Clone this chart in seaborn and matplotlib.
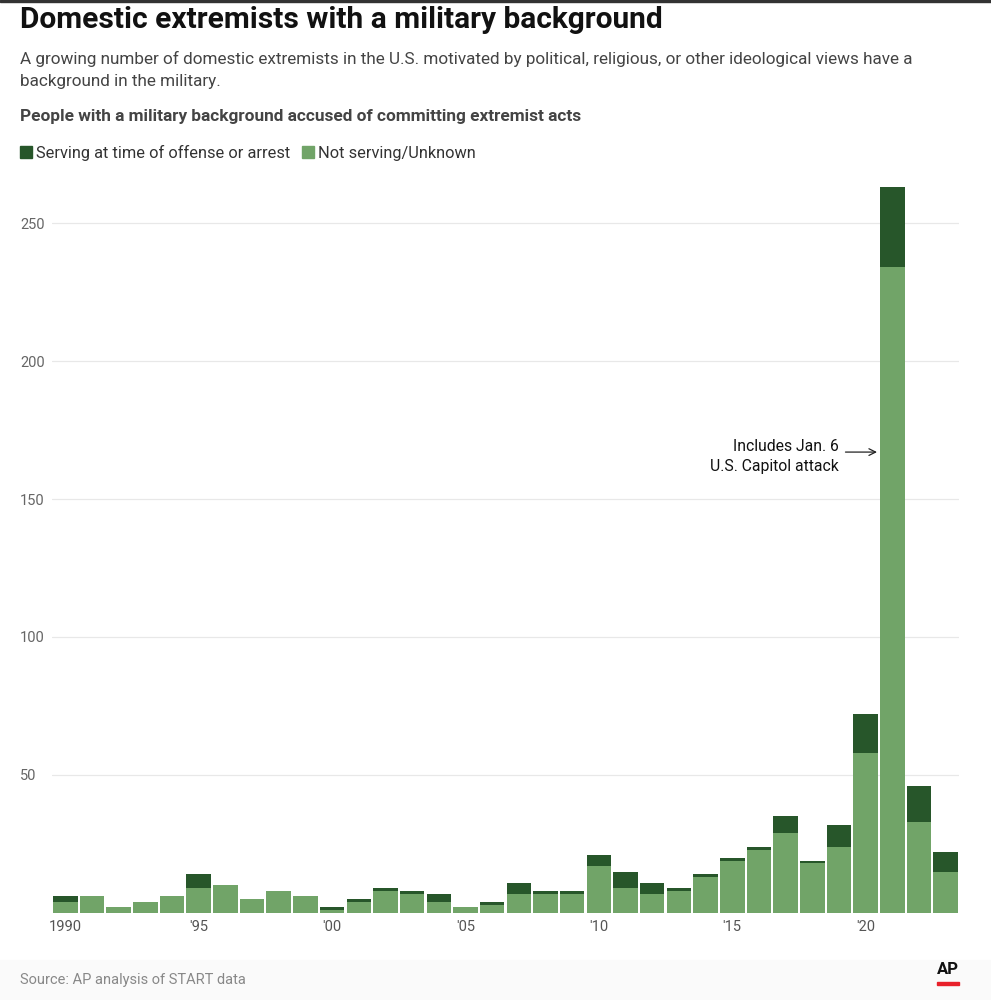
import numpy as np
import pandas as pd
import matplotlib
matplotlib.use("Agg")
import matplotlib.pyplot as plt
from matplotlib.patches import Patch
import seaborn as sns

years = list(range(1990, 2024))
serving = [2, 0, 0, 0, 0, 5, 0, 0, 0, 0, 1, 1, 1, 1, 3, 0, 1, 4, 1, 1,
           4, 6, 4, 1, 1, 1, 1, 6, 1, 8, 14, 29, 13, 7]
not_serving = [4, 6, 2, 4, 6, 9, 10, 5, 8, 6, 1, 4, 8, 7, 4, 2, 3, 7, 7, 7,
               17, 9, 7, 8, 13, 19, 23, 29, 18, 24, 58, 234, 33, 15]
tick_years = [1990, 1995, 2000, 2005, 2010, 2015, 2020]
tick_labels = ["1990", "'95", "'00", "'05", "'10", "'15", "'20"]
y_ticks = [50, 100, 150, 200, 250]

DARK = "#27562a"
LIGHT = "#71a468"

sns.set_theme(style="white")
plt.rcParams['font.family'] = ['Roboto', 'DejaVu Sans']
COND = ['Roboto', 'DejaVu Sans']

df = pd.DataFrame({
    "year": [str(y) for y in years],
    "total": np.array(serving) + np.array(not_serving),
    "not_serving": not_serving,
})
order = df["year"].tolist()

fig = plt.figure(figsize=(9.91, 10), dpi=100)
ax = fig.add_axes([52 / 991, 0.087, (959 - 52) / 991, (913 - 181.6) / 1000])

sns.barplot(data=df, x="year", y="total", order=order, color=DARK,
            width=0.92, saturation=1, ax=ax, zorder=2, linewidth=0)
sns.barplot(data=df, x="year", y="not_serving", order=order, color=LIGHT,
            width=0.92, saturation=1, ax=ax, zorder=3, linewidth=0)

ax.set_xlim(-0.5, len(years) - 0.5)
ax.set_ylim(0, 265)
ax.set_xlabel("")
ax.set_ylabel("")
for s in ax.spines.values():
    s.set_visible(False)

ax.set_yticks(y_ticks)
ax.set_yticklabels([str(v) for v in y_ticks])
ax.yaxis.grid(True, color="#e8e8e8", linewidth=0.9, zorder=0)
ax.set_axisbelow(True)
ax.tick_params(axis="y", length=0, pad=23, labelsize=10.5, labelcolor="#666666")
for lab in ax.get_yticklabels():
    lab.set_ha("left")

ax.set_xticks([order.index(str(y)) for y in tick_years])
ax.set_xticklabels(tick_labels)
ax.tick_params(axis="x", length=0, pad=5, labelsize=10.5, labelcolor="#555555")

# annotation
idx21 = order.index("2021")
ax.annotate("", xy=(idx21 - 0.47, 167), xytext=(idx21 - 1.86, 167),
            arrowprops=dict(arrowstyle="->", color="#222222", lw=0.9))
ax.text(idx21 - 2.0, 165.4, "Includes Jan. 6\nU.S. Capitol attack", ha="right",
        va="center", fontsize=11.3, color="#111111", linespacing=1.35)

# titles
fig.text(20 / 991, 1 - 20 / 1000, "Domestic extremists with a military background",
         family=COND, fontsize=21.5, fontweight="bold", color="#111111",
         ha="left", va="center")
fig.text(20 / 991, 1 - 70 / 1000,
         "A growing number of domestic extremists in the U.S. motivated by political, religious, or other ideological views have a\nbackground in the military.",
         family=COND, fontsize=12.35, color="#444444", ha="left", va="center",
         linespacing=1.55)
fig.text(20 / 991, 1 - 117 / 1000,
         "People with a military background accused of committing extremist acts",
         family=COND, fontsize=12.4, fontweight="bold", color="#444444",
         ha="left", va="center")

handles = [Patch(color=DARK), Patch(color=LIGHT)]
fig.legend(handles, ["Serving at time of offense or arrest", "Not serving/Unknown"],
           loc="center left", bbox_to_anchor=(5 / 991, 1 - 153 / 1000), ncol=2,
           frameon=False, handlelength=0.75, handleheight=0.75,
           handletextpad=0.25, columnspacing=0.7,
           prop=dict(family=COND, size=11.8), labelcolor="#333333")

# footer
fig.patches.append(plt.Rectangle((0, 0), 1, 0.04, transform=fig.transFigure,
                                 color="#fafafa", zorder=-1))
fig.text(20 / 991, 1 - 980 / 1000, "Source: AP analysis of START data",
         family=COND, fontsize=10.5, color="#888888", ha="left", va="center")
fig.text(948 / 991, 1 - 970 / 1000, "AP", family=COND, fontsize=12,
         fontweight="bold", color="#111111", ha="center", va="center")
fig.patches.append(plt.Rectangle((937 / 991, 1 - 985 / 1000), 22 / 991, 3 / 1000,
                                 transform=fig.transFigure, color="#e8202a"))
fig.patches.append(plt.Rectangle((0, 0.998), 1, 0.002, transform=fig.transFigure,
                                 color="#333333"))

fig.savefig("out.png", dpi=100)
